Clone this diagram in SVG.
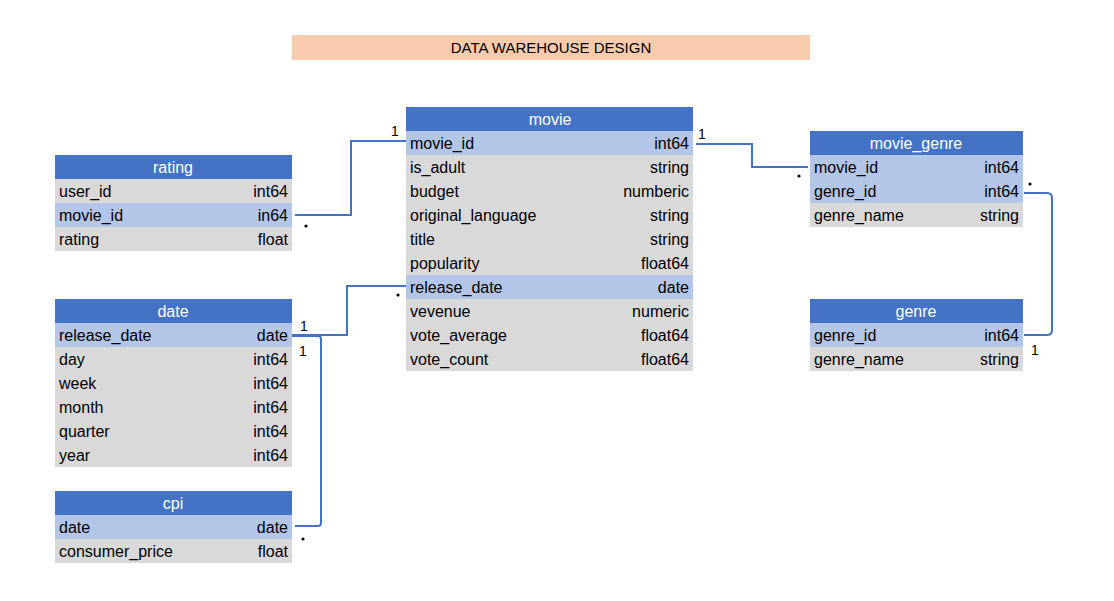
<svg xmlns="http://www.w3.org/2000/svg" width="1114" height="601" viewBox="0 0 1114 601">
<defs>
<style>
text{font-family:"Liberation Sans",Arial,sans-serif;font-size:16px;fill:#000}
.hd{fill:#4472C4}
.hl{fill:#B4C6E7}
.gr{fill:#D9D9D9}
.ht{fill:#fff;text-anchor:middle}
.r{text-anchor:end}
.c{fill:none;stroke:#4472C4;stroke-width:2}
.lb{font-size:14px}
.dot{fill:#000}
</style>
</defs>
<rect width="1114" height="601" fill="#fff"/>
<g id="title">
<rect x="292" y="35" width="518" height="25" fill="#F8CBAD"/>
<text x="551" y="53" text-anchor="middle" style="font-size:15px">DATA WAREHOUSE DESIGN</text>
</g>
<g id="movie">
<rect class="hd" x="406" y="107" width="287" height="24"/>
<text class="ht" x="550" y="125">movie</text>
<rect class="hl" x="406" y="131" width="287" height="24"/>
<rect class="gr" x="406" y="155" width="287" height="120"/>
<rect class="hl" x="406" y="275" width="287" height="24"/>
<rect class="gr" x="406" y="299" width="287" height="72"/>
<text x="410" y="149">movie_id</text><text class="r" x="689" y="149">int64</text>
<text x="410" y="173">is_adult</text><text class="r" x="689" y="173">string</text>
<text x="410" y="197">budget</text><text class="r" x="689" y="197">numberic</text>
<text x="410" y="221">original_language</text><text class="r" x="689" y="221">string</text>
<text x="410" y="245">title</text><text class="r" x="689" y="245">string</text>
<text x="410" y="269">popularity</text><text class="r" x="689" y="269">float64</text>
<text x="410" y="293">release_date</text><text class="r" x="689" y="293">date</text>
<text x="410" y="317">vevenue</text><text class="r" x="689" y="317">numeric</text>
<text x="410" y="341">vote_average</text><text class="r" x="689" y="341">float64</text>
<text x="410" y="365">vote_count</text><text class="r" x="689" y="365">float64</text>
</g>
<g id="rating">
<rect class="hd" x="55" y="155" width="237" height="24"/>
<text class="ht" x="173" y="173">rating</text>
<rect class="gr" x="55" y="179" width="237" height="24"/>
<rect class="hl" x="55" y="203" width="237" height="24"/>
<rect class="gr" x="55" y="227" width="237" height="24"/>
<text x="59" y="197">user_id</text><text class="r" x="288" y="197">int64</text>
<text x="59" y="221">movie_id</text><text class="r" x="288" y="221">in64</text>
<text x="59" y="245">rating</text><text class="r" x="288" y="245">float</text>
</g>
<g id="date">
<rect class="hd" x="55" y="299" width="237" height="24"/>
<text class="ht" x="173" y="317">date</text>
<rect class="hl" x="55" y="323" width="237" height="24"/>
<rect class="gr" x="55" y="347" width="237" height="120"/>
<text x="59" y="341">release_date</text><text class="r" x="288" y="341">date</text>
<text x="59" y="365">day</text><text class="r" x="288" y="365">int64</text>
<text x="59" y="389">week</text><text class="r" x="288" y="389">int64</text>
<text x="59" y="413">month</text><text class="r" x="288" y="413">int64</text>
<text x="59" y="437">quarter</text><text class="r" x="288" y="437">int64</text>
<text x="59" y="461">year</text><text class="r" x="288" y="461">int64</text>
</g>
<g id="cpi">
<rect class="hd" x="55" y="491" width="237" height="24"/>
<text class="ht" x="173" y="509">cpi</text>
<rect class="hl" x="55" y="515" width="237" height="24"/>
<rect class="gr" x="55" y="539" width="237" height="24"/>
<text x="59" y="533">date</text><text class="r" x="288" y="533">date</text>
<text x="59" y="557">consumer_price</text><text class="r" x="288" y="557">float</text>
</g>
<g id="movie_genre">
<rect class="hd" x="810" y="131" width="213" height="24"/>
<text class="ht" x="916" y="149">movie_genre</text>
<rect class="hl" x="810" y="155" width="213" height="48"/>
<rect class="gr" x="810" y="203" width="213" height="24"/>
<text x="814" y="173">movie_id</text><text class="r" x="1019" y="173">int64</text>
<text x="814" y="197">genre_id</text><text class="r" x="1019" y="197">int64</text>
<text x="814" y="221">genre_name</text><text class="r" x="1019" y="221">string</text>
</g>
<g id="genre">
<rect class="hd" x="810" y="299" width="213" height="24"/>
<text class="ht" x="916" y="317">genre</text>
<rect class="hl" x="810" y="323" width="213" height="24"/>
<rect class="gr" x="810" y="347" width="213" height="24"/>
<text x="814" y="341">genre_id</text><text class="r" x="1019" y="341">int64</text>
<text x="814" y="365">genre_name</text><text class="r" x="1019" y="365">string</text>
</g>
<g id="connectors">
<path class="c" d="M295 215 H351 V141 H406"/>
<path class="c" d="M696 144 H752 V167 H808"/>
<path class="c" d="M1024 193 H1047 Q1052 193 1052 198 V330 Q1052 335 1047 335 H1024"/>
<path class="c" d="M292 335 H347 V286 H406"/>
<path class="c" d="M292 336 H318 Q321 336 321 339 V523 Q321 526 318 526 H295"/>
<text class="lb" x="391" y="136">1</text>
<circle class="dot" cx="306" cy="226" r="1.6"/>
<text class="lb" x="698" y="139">1</text>
<circle class="dot" cx="799" cy="176" r="1.6"/>
<circle class="dot" cx="1030" cy="184" r="1.6"/>
<text class="lb" x="1031" y="355">1</text>
<text class="lb" x="300" y="331">1</text>
<circle class="dot" cx="398" cy="295" r="1.6"/>
<text class="lb" x="299" y="356">1</text>
<circle class="dot" cx="303" cy="539" r="1.6"/>
</g>
</svg>
